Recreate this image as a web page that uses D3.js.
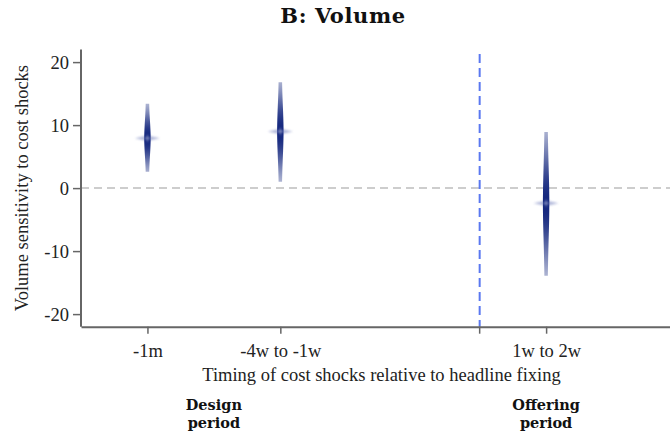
<!DOCTYPE html>
<html>
<head>
<meta charset="utf-8">
<script src="https://cdn.jsdelivr.net/npm/d3@7"></script>
<style>
  body { margin: 0; background: #fff; }
  text { font-family: "Liberation Serif", "Times New Roman", serif; }
</style>
</head>
<body>
<div id="chart"></div>
<script>
const width = 670, height = 436;

// data
const categories = ["-1m", "-4w to -1w", "1w to 2w"];
const positions = [1, 2, 4];
const estimates = [7.9, 9.0, -2.4];
const ciLow = [2.6, 1.0, -13.9];
const ciHigh = [13.4, 16.8, 8.9];
const yTicks = [-20, -10, 0, 10, 20];
const periodLabels = [["Design", "period"], ["Offering", "period"]];
const periodPositions = [1.5, 4];
const breakPosition = 3.5;

const x = d3.scaleLinear().domain([0.5, 5]).range([81, 679]);
const y = d3.scaleLinear().domain([-22, 22]).range([326.7, 49.5]);

const svg = d3.select("#chart").append("svg")
    .attr("width", width)
    .attr("height", height);
const defs = svg.append("defs");
defs.append("filter").attr("id", "soft")
    .attr("x", "-50%").attr("y", "-50%").attr("width", "200%").attr("height", "200%")
    .append("feGaussianBlur").attr("stdDeviation", 0.9);

// title
svg.append("text")
    .attr("x", 343).attr("y", 23)
    .attr("text-anchor", "middle")
    .style("font-family", "'DejaVu Serif', serif")
    .style("font-weight", "bold")
    .style("font-size", "21px")
    .style("letter-spacing", "0.6px")
    .attr("fill", "#111")
    .text("B: Volume");

// zero line
svg.append("line")
    .attr("x1", x(0.5)).attr("x2", width)
    .attr("y1", y(0)).attr("y2", y(0))
    .attr("stroke", "#bdbdbd")
    .attr("stroke-width", 1.5)
    .attr("stroke-dasharray", "8,5");

// break line between design and offering period
svg.append("line")
    .attr("x1", x(breakPosition)).attr("x2", x(breakPosition))
    .attr("y1", 54).attr("y2", y(-22))
    .attr("stroke", "#5a78f0")
    .attr("stroke-width", 2)
    .attr("stroke-dasharray", "9,5");

// axes
const fmt = d => String(d); // plain hyphen minus, as in the original
const yAxis = svg.append("g")
    .attr("transform", `translate(${x(0.5)},0)`)
    .call(d3.axisLeft(y).tickValues(yTicks).tickSize(8).tickPadding(4).tickSizeOuter(0).tickFormat(fmt));

const xAxis = svg.append("g")
    .attr("transform", `translate(0,${y(-22)})`)
    .call(d3.axisBottom(x).tickValues(positions).tickSize(7).tickPadding(10).tickSizeOuter(0)
        .tickFormat((d, i) => categories[i]));

xAxis.append("line")
    .attr("x1", x(breakPosition)).attr("x2", x(breakPosition))
    .attr("y1", 0).attr("y2", 7)
    .attr("stroke", "#666").attr("stroke-width", 1.5);

[xAxis, yAxis].forEach(g => {
    g.attr("font-family", null).attr("font-size", null);
    g.select(".domain").attr("stroke", "#666").attr("stroke-width", 2);
    g.selectAll(".tick line").attr("stroke", "#666").attr("stroke-width", 1.5);
    g.selectAll(".tick text")
        .style("font-family", "'Liberation Serif', serif")
        .style("font-size", "18.5px")
        .attr("fill", "#222");
});
yAxis.select(".domain").attr("d", `M0,${y(-22)}V${y(22)}`);

// axis titles
svg.append("text")
    .attr("x", (x(0.5) + width) / 2 + 6).attr("y", 381)
    .attr("text-anchor", "middle")
    .style("font-size", "18.5px")
    .attr("fill", "#222")
    .text("Timing of cost shocks relative to headline fixing");

svg.append("text")
    .attr("transform", `translate(28,${y(0)}) rotate(-90)`)
    .attr("text-anchor", "middle")
    .style("font-size", "18.5px")
    .attr("fill", "#222")
    .text("Volume sensitivity to cost shocks");

// period labels
periodLabels.forEach((lines, i) => {
    svg.append("text")
        .attr("x", x(periodPositions[i])).attr("y", 410)
        .attr("text-anchor", "middle")
        .style("font-family", "'DejaVu Serif', serif")
        .style("font-weight", "bold")
        .style("font-size", "14.5px")
        .attr("fill", "#111")
        .selectAll("tspan")
        .data(lines)
        .join("tspan")
        .attr("x", x(periodPositions[i]))
        .attr("dy", (d, j) => j === 0 ? 0 : 18)
        .text(d => d);
});

// spindle-shaped confidence strips
const navy = "#14277e";
const marks = svg.append("g");
categories.forEach((c, i) => {
    const est = estimates[i], lo = ciLow[i], hi = ciHigh[i];
    const se = (hi - lo) / (2 * 1.96);
    const dens = v => Math.exp(-0.5 * ((v - est) / se) ** 2);
    const n = 60;
    const samples = d3.range(n + 1).map(k => lo + k * (hi - lo) / n);

    const grad = defs.append("linearGradient")
        .attr("id", "g" + i)
        .attr("x1", 0).attr("x2", 0).attr("y1", 1).attr("y2", 0);
    grad.selectAll("stop")
        .data(samples)
        .join("stop")
        .attr("offset", (v, k) => k / n)
        .attr("stop-color", navy)
        .attr("stop-opacity", v => 0.06 + 0.94 * Math.pow(dens(v), 0.6));

    const cx = x(positions[i]);
    const halfW = v => (3 + 3.4 * dens(v)) / 2;
    const area = d3.area()
        .y(v => y(v))
        .x0(v => cx - halfW(v))
        .x1(v => cx + halfW(v))
        .curve(d3.curveBasis);

    const g = marks.append("g");

    // small four-pointed glint at the point estimate
    const cy = y(est);
    const r = 12.5, ri = 3.2;
    const pts = d3.range(8).map(k => {
        const a = k * Math.PI / 4;
        const rr = k % 2 === 0 ? r : ri;
        return [cx + rr * Math.cos(a), cy + rr * Math.sin(a)];
    });
    g.append("path")
        .attr("d", d3.line()(pts) + "Z")
        .attr("fill", "#a4acd4")
        .attr("opacity", 0.85)
        .attr("filter", "url(#soft)");

    g.append("path")
        .attr("d", area(samples))
        .attr("fill", `url(#g${i})`);

    g.append("path")
        .attr("d", d3.line()(pts.map(([px, py]) => [cx + (px - cx) * 0.35, cy + (py - cy) * 0.35])) + "Z")
        .attr("fill", "#c3c9e6")
        .attr("opacity", 0.7)
        .attr("filter", "url(#soft)");
});
</script>
</body>
</html>
